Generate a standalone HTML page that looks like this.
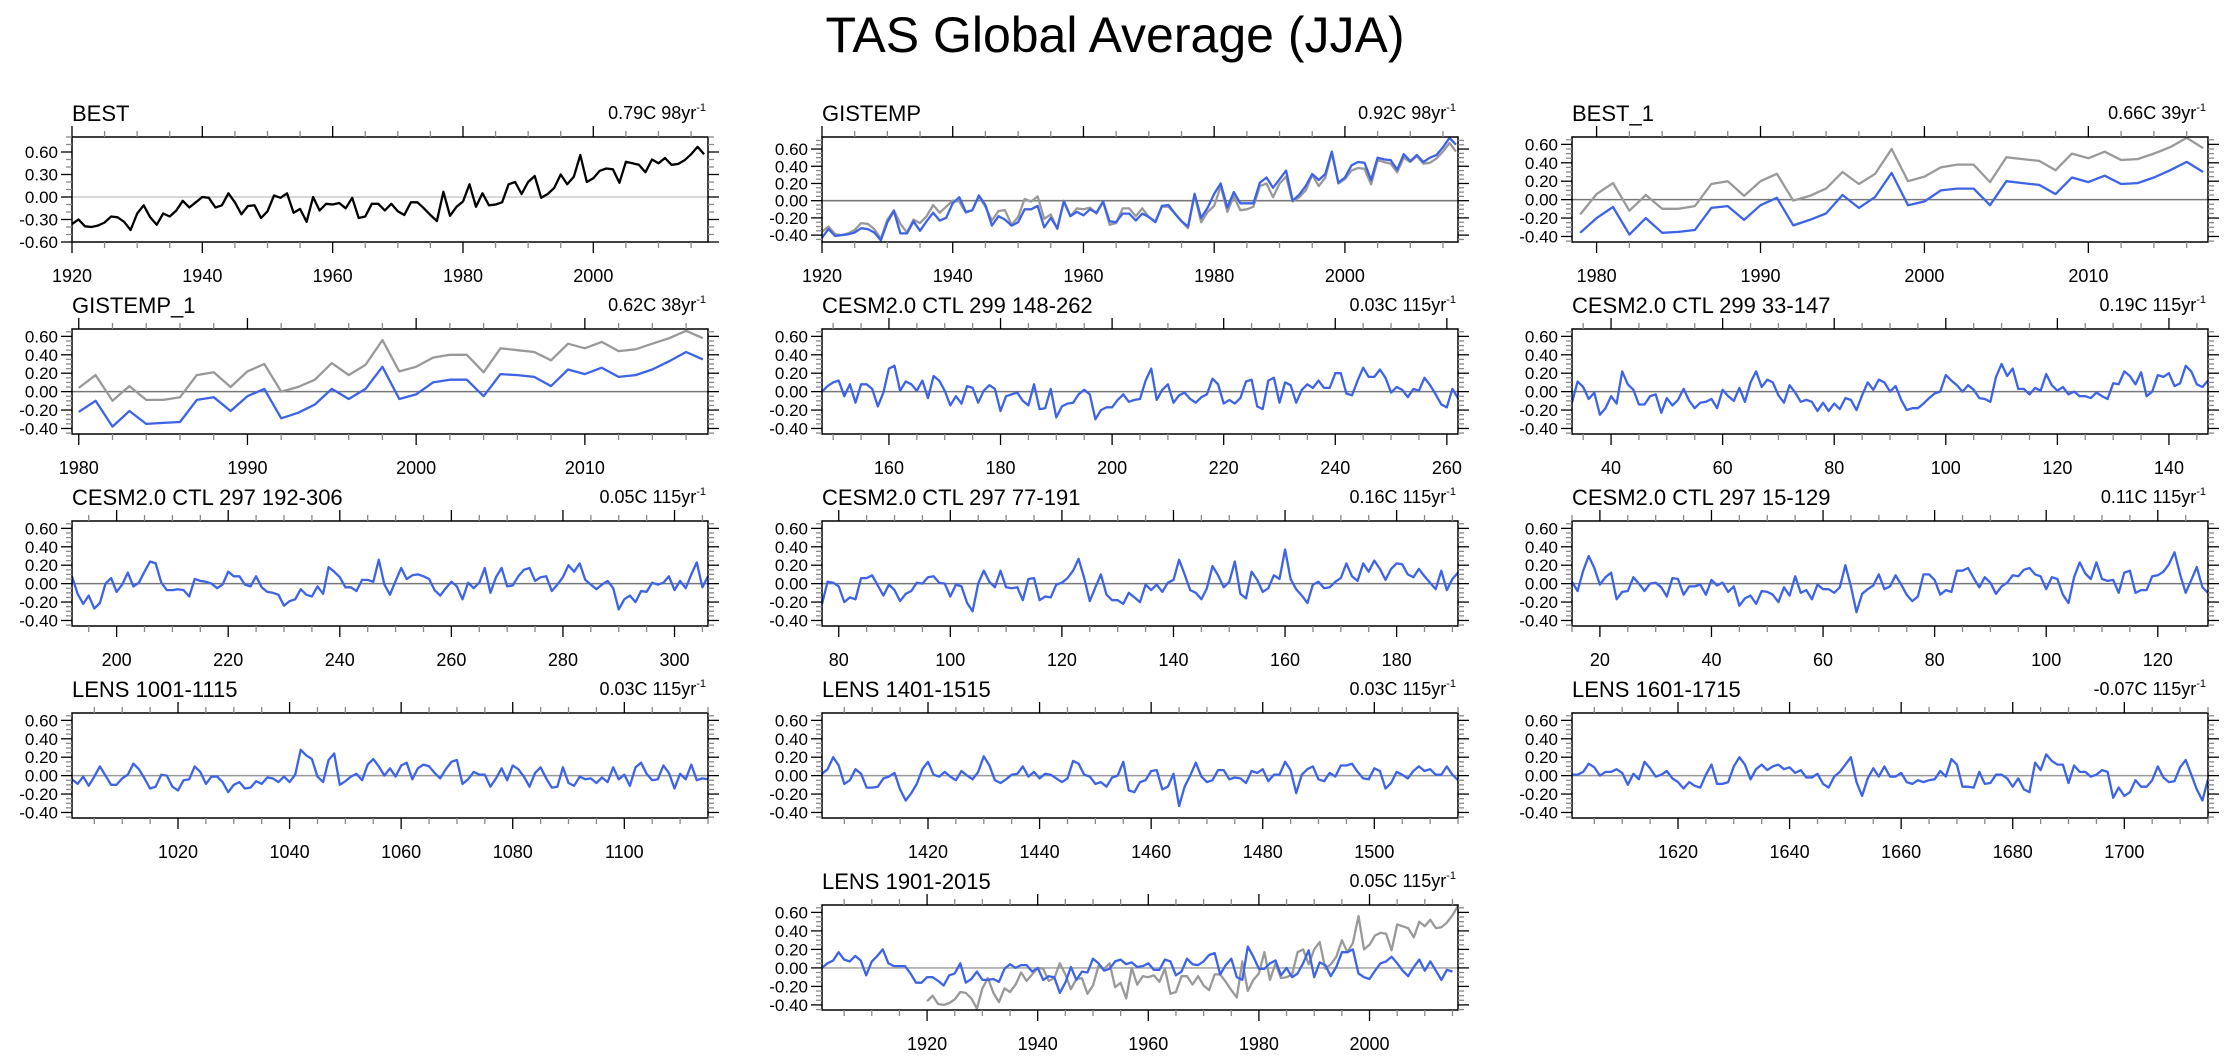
<!DOCTYPE html>
<html><head><meta charset="utf-8"><title>TAS Global Average (JJA)</title>
<style>html,body{margin:0;padding:0;background:#fff}svg{display:block;font-family:"Liberation Sans",Arial,sans-serif}</style>
</head><body>
<svg id="chart" width="2230" height="1057" viewBox="0 0 2230 1057" xmlns="http://www.w3.org/2000/svg">
<text x="1115" y="52" text-anchor="middle" font-size="50">TAS Global Average (JJA)</text>
</svg>
<script>
// ---- data ----
const best_start = 1920;
const best_vals = [-0.36,-0.30,-0.39,-0.40,-0.38,-0.34,-0.26,-0.27,-0.33,-0.44,-0.22,-0.11,-0.27,-0.37,-0.22,-0.26,-0.18,-0.05,-0.14,-0.07,0.00,-0.01,-0.14,-0.11,0.05,-0.07,-0.23,-0.12,-0.11,-0.28,-0.19,0.02,-0.01,0.05,-0.21,-0.16,-0.33,0.00,-0.18,-0.09,-0.10,-0.08,-0.15,-0.01,-0.28,-0.26,-0.09,-0.09,-0.18,-0.09,-0.19,-0.24,-0.07,-0.07,-0.15,-0.24,-0.32,0.07,-0.25,-0.13,-0.06,0.17,-0.13,0.05,-0.11,-0.10,-0.07,0.17,0.20,0.04,0.20,0.28,-0.01,0.04,0.12,0.30,0.17,0.27,0.56,0.20,0.25,0.35,0.38,0.37,0.19,0.47,0.45,0.43,0.33,0.50,0.45,0.52,0.43,0.44,0.49,0.57,0.67,0.57];
const gis_start = 1920;
const gis_vals = [-0.43,-0.33,-0.41,-0.40,-0.39,-0.37,-0.32,-0.33,-0.37,-0.46,-0.25,-0.12,-0.38,-0.38,-0.24,-0.35,-0.24,-0.14,-0.23,-0.20,-0.03,0.04,-0.13,-0.11,0.06,-0.05,-0.29,-0.18,-0.22,-0.29,-0.25,-0.10,-0.10,-0.06,-0.31,-0.20,-0.32,-0.01,-0.18,-0.13,-0.17,-0.10,-0.14,-0.01,-0.24,-0.25,-0.15,-0.15,-0.23,-0.15,-0.19,-0.25,-0.06,-0.05,-0.15,-0.24,-0.30,0.08,-0.20,-0.08,0.08,0.20,-0.08,0.10,-0.03,-0.03,-0.03,0.21,0.27,0.15,0.25,0.35,0.00,0.07,0.17,0.31,0.24,0.31,0.57,0.21,0.27,0.41,0.45,0.44,0.24,0.50,0.48,0.47,0.36,0.54,0.46,0.53,0.45,0.50,0.53,0.62,0.73,0.65];
const best1_start = 1979;
const best1_gray = [-0.16,0.06,0.18,-0.12,0.05,-0.10,-0.10,-0.07,0.17,0.20,0.04,0.20,0.28,-0.01,0.04,0.12,0.30,0.17,0.28,0.55,0.20,0.25,0.35,0.38,0.38,0.19,0.46,0.44,0.42,0.32,0.50,0.45,0.52,0.43,0.44,0.50,0.57,0.67,0.56];
const best1_blue = [-0.36,-0.20,-0.08,-0.38,-0.20,-0.36,-0.35,-0.33,-0.09,-0.07,-0.22,-0.06,0.02,-0.28,-0.22,-0.15,0.05,-0.09,0.03,0.29,-0.06,-0.02,0.10,0.12,0.12,-0.06,0.20,0.18,0.16,0.06,0.24,0.19,0.26,0.17,0.18,0.24,0.32,0.41,0.30];
const gis1_start = 1980;
const gis1_gray = [0.04,0.18,-0.10,0.06,-0.09,-0.09,-0.06,0.18,0.21,0.05,0.22,0.30,0.00,0.05,0.13,0.31,0.18,0.29,0.56,0.22,0.27,0.37,0.40,0.40,0.21,0.47,0.45,0.43,0.34,0.52,0.47,0.54,0.44,0.46,0.52,0.58,0.66,0.58];
const gis1_blue = [-0.22,-0.10,-0.38,-0.21,-0.35,-0.34,-0.33,-0.09,-0.06,-0.21,-0.05,0.03,-0.29,-0.23,-0.14,0.03,-0.08,0.03,0.27,-0.08,-0.03,0.10,0.13,0.13,-0.05,0.19,0.18,0.16,0.06,0.24,0.19,0.26,0.16,0.18,0.24,0.33,0.43,0.35];
const c299a_start = 148;
const c299a_vals = [0,0.06,0.10,0.12,-0.05,0.08,-0.12,0.08,0.08,0.03,-0.16,-0.01,0.25,0.28,0.01,0.11,0.08,0.01,0.12,-0.07,0.17,0.12,0.01,-0.15,-0.05,-0.13,0.06,0.04,-0.12,0.01,0.07,0.03,-0.21,-0.05,-0.03,-0.01,-0.10,-0.15,0.08,-0.19,-0.18,0.03,-0.28,-0.16,-0.13,-0.12,-0.03,0.02,-0.03,-0.30,-0.20,-0.17,-0.17,-0.09,-0.03,-0.11,-0.09,-0.08,0.12,0.25,-0.09,0.02,0.08,-0.12,-0.04,-0.01,-0.08,-0.12,-0.06,-0.03,0.14,0.08,-0.13,-0.09,-0.13,-0.07,0.11,0.13,-0.16,-0.19,0.12,0.15,-0.12,0.10,0.07,-0.12,0.02,0.08,0.04,0.12,0.04,0.04,0.20,0.20,-0.02,-0.04,0.12,0.26,0.16,0.16,0.24,0.15,-0.01,0.05,0.02,-0.06,0.03,0.01,0.15,0.07,-0.03,-0.14,-0.17,0.03,-0.07];
const c299b_start = 33;
const c299b_vals = [-0.12,0.11,0.05,-0.08,-0.01,-0.25,-0.18,-0.05,-0.13,0.22,0.08,0.02,-0.14,-0.14,-0.05,-0.03,-0.23,-0.07,-0.15,-0.09,0.03,-0.10,-0.18,-0.12,-0.11,-0.08,-0.18,0.02,-0.05,-0.10,0.04,-0.11,0.10,0.22,0.05,0.13,0.10,-0.04,-0.12,0.07,-0.01,-0.11,-0.09,-0.11,-0.21,-0.12,-0.21,-0.13,-0.19,-0.07,-0.09,-0.20,-0.04,0.10,0.02,0.13,0.10,0,0.06,-0.09,-0.20,-0.18,-0.18,-0.13,-0.07,-0.02,0,0.18,0.12,0.07,0,0.07,0.02,-0.07,-0.08,-0.11,0.16,0.30,0.17,0.25,0.03,0.03,-0.03,0.04,0.01,0.19,0.07,0.01,0.05,-0.03,0,-0.05,-0.05,-0.07,-0.01,-0.05,-0.08,0.09,0.08,0.22,0.17,0.08,0.21,-0.05,0,0.18,0.16,0.20,0.06,0.09,0.28,0.22,0.08,0.05,0.12];
const c297a_start = 192;
const c297a_vals = [0.08,-0.11,-0.22,-0.13,-0.27,-0.21,0,0.06,-0.09,-0.01,0.12,-0.03,0.01,0.13,0.24,0.22,0.01,-0.07,-0.07,-0.06,-0.07,-0.14,0.05,0.03,0.02,0,-0.05,-0.01,0.13,0.08,0.08,-0.01,-0.03,0.08,-0.04,-0.09,-0.10,-0.12,-0.24,-0.19,-0.17,-0.06,-0.12,-0.14,-0.03,-0.11,0.18,0.13,0.07,-0.04,-0.04,-0.08,0.04,0.04,0.02,0.26,-0.01,-0.12,0.03,0.17,0.05,0.09,0.10,0.08,0.05,-0.07,-0.13,-0.05,0.02,-0.03,-0.17,0.01,-0.05,0.01,0.17,-0.10,0.07,0.17,-0.03,-0.02,0.08,0.15,0.17,0.03,0.07,0.08,-0.08,-0.01,0.07,0.20,0.13,0.22,0.04,-0.01,-0.06,-0.01,0.03,-0.05,-0.28,-0.17,-0.13,-0.20,-0.08,-0.09,0.01,-0.01,0.01,0.08,-0.07,0.03,-0.05,0.10,0.23,-0.04,0.08];
const c297b_start = 77;
const c297b_vals = [-0.22,0.02,0.01,-0.03,-0.20,-0.15,-0.17,0.06,0.06,0.09,-0.02,-0.13,-0.01,-0.07,-0.19,-0.11,-0.08,0.01,0,0.07,0.08,0.01,0,-0.14,-0.01,-0.03,-0.21,-0.30,0,0.14,0.02,-0.04,0.14,-0.04,-0.05,-0.04,-0.18,0.05,0.06,-0.18,-0.14,-0.15,-0.01,0.01,0.06,0.14,0.27,0.06,-0.19,-0.04,0.10,-0.12,-0.18,-0.18,-0.22,-0.10,-0.15,-0.20,-0.01,-0.07,-0.01,-0.09,0.01,0.04,0.26,0.10,-0.07,-0.10,-0.17,-0.05,0.19,0.09,-0.04,0.02,0.24,-0.11,-0.16,0.13,0.04,-0.09,-0.05,0.09,0.05,0.37,0.05,-0.06,-0.13,-0.21,-0.01,0.02,-0.05,-0.04,0.02,0.06,0.22,0.08,0.03,0.22,0.13,0.25,0.16,0.04,0.16,0.22,0.21,0.10,0.07,0.16,0.08,0.01,-0.06,0.14,-0.07,0.05,0.12];
const c297c_start = 15;
const c297c_vals = [0.02,-0.08,0.14,0.30,0.17,-0.01,0.07,0.12,-0.17,-0.09,-0.08,0.07,0,-0.08,0,0.01,-0.04,-0.14,0.06,0.05,-0.12,-0.03,-0.03,-0.01,-0.12,0.04,-0.02,0.01,-0.09,-0.03,-0.24,-0.16,-0.13,-0.22,-0.08,-0.09,-0.12,-0.20,-0.04,-0.13,0.08,-0.10,-0.07,-0.17,-0.01,-0.06,-0.06,-0.10,-0.04,0.20,-0.03,-0.31,-0.11,-0.06,-0.02,0.10,-0.06,-0.03,0.09,-0.01,-0.12,-0.19,-0.14,0.10,0.10,0.04,-0.12,-0.07,-0.09,0.14,0.14,0.17,0.06,-0.04,0.07,0.01,-0.11,-0.03,0.01,0.09,0.08,0.15,0.17,0.10,0.08,-0.06,0.07,0.05,-0.12,-0.21,0.07,0.23,0.11,0.05,0.23,0.05,0.03,0.04,-0.10,0.12,0.14,-0.10,-0.07,-0.07,0.08,0.09,0.13,0.21,0.34,0.10,-0.10,0.04,0.18,-0.04,-0.10];
const l1001_start = 1001;
const l1001_vals = [-0.04,-0.09,-0.01,-0.11,-0.01,0.10,0,-0.10,-0.10,-0.03,0.01,0.13,0.07,-0.03,-0.14,-0.12,0.01,0,-0.12,-0.16,-0.05,-0.04,0.10,0.04,-0.09,-0.01,-0.01,-0.07,-0.18,-0.10,-0.07,-0.14,-0.13,-0.06,-0.09,-0.02,-0.03,-0.07,-0.01,-0.07,0.01,0.28,0.22,0.18,-0.01,-0.07,0.17,0.24,-0.10,-0.06,-0.01,0.02,-0.05,0.12,0.18,0.10,0,0.08,-0.01,0.11,0.14,-0.04,0.08,0.12,0.10,0.03,-0.03,0.07,0.15,0.17,-0.09,-0.04,0.04,0.01,0.01,-0.12,-0.03,0.08,-0.05,0.11,0.07,-0.01,-0.12,0.03,0.09,-0.03,-0.13,-0.12,0.09,-0.08,-0.11,-0.01,-0.04,-0.03,-0.08,-0.02,-0.07,0.09,-0.04,0.01,-0.11,0.09,0.14,0.02,-0.05,-0.04,0.11,0.03,-0.14,0.02,-0.04,0.12,-0.05,-0.03,-0.04];
const l1401_start = 1401;
const l1401_vals = [0.02,0.07,0.20,0.11,-0.09,-0.05,0.07,0.02,-0.13,-0.13,-0.12,-0.03,-0.01,0.03,-0.15,-0.27,-0.19,-0.09,0.07,0.15,0.01,-0.01,0.04,-0.01,-0.05,0.05,0,-0.04,0.04,0.21,0.11,-0.05,-0.08,-0.04,0.01,0.02,0.10,-0.01,0.04,-0.03,0.02,0.01,-0.03,-0.07,-0.03,0.16,0.13,0.01,-0.01,-0.09,-0.07,-0.12,-0.02,0,0.15,-0.16,-0.18,-0.07,-0.05,0.05,0.06,-0.15,-0.12,0.02,-0.33,-0.12,0,0.14,-0.01,-0.07,-0.05,0.06,0.06,-0.04,-0.02,-0.03,-0.08,0.05,0.03,0.07,-0.06,0.01,0.01,0.15,0.06,-0.19,0.01,0.07,0.10,-0.04,-0.06,0.03,-0.01,0.11,0.11,0.13,0.04,-0.03,-0.04,0.08,0.05,-0.14,-0.08,0.04,0.01,-0.03,0.05,0.10,0.05,0.07,0.01,0.01,0.10,0.01,-0.05];
const l1601_start = 1601;
const l1601_vals = [0.01,0.01,0.04,0.13,0.09,0,0.04,0.04,0.07,0.03,-0.10,0.02,-0.04,0.15,0.08,-0.01,0.01,0.05,-0.03,-0.07,-0.14,-0.07,-0.11,-0.13,0.01,0.12,-0.09,-0.09,-0.07,0.10,0.20,0.12,-0.04,0.07,0.12,0.06,0.10,0.12,0.07,0.09,0.03,0.06,-0.02,-0.02,0.02,-0.09,-0.13,-0.01,0.04,0.12,0.20,-0.07,-0.22,-0.03,0.08,-0.01,0.10,-0.01,-0.01,0.03,-0.07,-0.09,-0.05,-0.07,-0.05,-0.04,0.05,-0.01,0.18,0.12,-0.12,-0.12,-0.13,0.04,-0.09,-0.08,0.01,0.01,-0.03,-0.12,-0.03,-0.15,-0.18,0.14,0.06,0.23,0.16,0.12,0.12,-0.08,0.11,0.04,0.04,-0.01,0.01,0.06,0.04,-0.24,-0.13,-0.22,-0.18,-0.05,-0.12,-0.12,-0.05,0.10,-0.02,-0.07,-0.06,0.09,0.17,0.01,-0.15,-0.27,-0.04];
const l1901_start = 1901;
const l1901_vals = [0,0.05,0.08,0.17,0.09,0.07,0.13,0.08,-0.08,0.07,0.13,0.20,0.05,0.02,0.02,0.02,-0.06,-0.16,-0.16,-0.10,-0.10,-0.14,-0.19,-0.08,-0.06,0.05,-0.16,-0.12,-0.04,-0.13,-0.13,-0.12,-0.15,-0.01,0.04,0,0.03,0.03,-0.04,0,-0.13,-0.09,-0.10,-0.27,-0.16,0.01,-0.13,-0.04,-0.05,0.10,0.05,-0.03,-0.01,0.07,0.09,0.04,0.06,0.01,0.02,0.05,-0.02,-0.02,0.09,0.07,-0.08,-0.04,0.10,0.04,0.03,0.07,0.14,0.16,-0.07,0.03,0.10,-0.10,-0.13,0.23,0.12,-0.01,-0.01,0.05,0.08,-0.08,0,-0.10,-0.06,0.05,0.19,-0.10,0.06,0.03,-0.09,0.01,0.17,0.17,0.20,-0.06,-0.10,-0.12,-0.03,0.05,0.07,0.12,0.05,-0.03,-0.09,0.01,0.09,-0.03,0.07,-0.03,-0.13,-0.02,-0.04];

// tick label arrays
const yTicksA = ["-0.60","-0.30","0.00","0.30","0.60"];
const yTicksB = ["-0.40","-0.20","0.00","0.20","0.40","0.60"];
const xTicksBest = ["1920","1940","1960","1980","2000"];
const xTicksBest1 = ["1980","1990","2000","2010"];
const xTicks299a = ["160","180","200","220","240","260"];
const xTicks299b = ["40","60","80","100","120","140"];
const xTicks297a = ["200","220","240","260","280","300"];
const xTicks297b = ["80","100","120","140","160","180"];
const xTicks297c = ["20","40","60","80","100","120"];
const xTicksL1001 = ["1020","1040","1060","1080","1100"];
const xTicksL1401 = ["1420","1440","1460","1480","1500"];
const xTicksL1601 = ["1620","1640","1660","1680","1700"];
const xTicksL1901 = ["1920","1940","1960","1980","2000"];

const BLUE = "#3d63e6", GRAY = "#999999", BLACK = "#000000";
const colL = [72, 822, 1572], rowT = [137, 329, 521, 713, 905], PW = 636, PH = 105;

const panels = [
 {id:"best", title:"BEST", note:"0.79C 98yr", c:0, r:0, xmin:1920, xmax:2017.6, xt:xTicksBest, xminor:5, ymin:-0.6, ymax:0.8, yt:yTicksA, yminor:0.1, zc:"#cccccc",
  series:[{s:best_start, v:best_vals, col:BLACK}]},
 {id:"gistemp", title:"GISTEMP", note:"0.92C 98yr", c:1, r:0, xmin:1920, xmax:2017.3, xt:xTicksBest, xminor:5, ymin:-0.48, ymax:0.74, yt:yTicksB, yminor:0.05, zc:"#777777",
  series:[{s:best_start, v:best_vals, col:GRAY},{s:gis_start, v:gis_vals, col:BLUE}]},
 {id:"best-1", title:"BEST_1", note:"0.66C 39yr", c:2, r:0, xmin:1978.5, xmax:2017.3, xt:xTicksBest1, xminor:2, ymin:-0.46, ymax:0.68, yt:yTicksB, yminor:0.05, zc:"#777777",
  series:[{s:best1_start, v:best1_gray, col:GRAY},{s:best1_start, v:best1_blue, col:BLUE}]},
 {id:"gistemp-1", title:"GISTEMP_1", note:"0.62C 38yr", c:0, r:1, xmin:1979.6, xmax:2017.3, xt:xTicksBest1, xminor:2, ymin:-0.46, ymax:0.68, yt:yTicksB, yminor:0.05, zc:"#777777",
  series:[{s:gis1_start, v:gis1_gray, col:GRAY},{s:gis1_start, v:gis1_blue, col:BLUE}]},
 {id:"cesm-299-148", title:"CESM2.0 CTL 299 148-262", note:"0.03C 115yr", c:1, r:1, xmin:148, xmax:262, xt:xTicks299a, xminor:5, ymin:-0.46, ymax:0.68, yt:yTicksB, yminor:0.05, zc:"#777777",
  series:[{s:c299a_start, v:c299a_vals, col:BLUE}]},
 {id:"cesm-299-33", title:"CESM2.0 CTL 299 33-147", note:"0.19C 115yr", c:2, r:1, xmin:33, xmax:147, xt:xTicks299b, xminor:5, ymin:-0.46, ymax:0.68, yt:yTicksB, yminor:0.05, zc:"#777777",
  series:[{s:c299b_start, v:c299b_vals, col:BLUE}]},
 {id:"cesm-297-192", title:"CESM2.0 CTL 297 192-306", note:"0.05C 115yr", c:0, r:2, xmin:192, xmax:306, xt:xTicks297a, xminor:5, ymin:-0.46, ymax:0.68, yt:yTicksB, yminor:0.05, zc:"#777777",
  series:[{s:c297a_start, v:c297a_vals, col:BLUE}]},
 {id:"cesm-297-77", title:"CESM2.0 CTL 297 77-191", note:"0.16C 115yr", c:1, r:2, xmin:77, xmax:191, xt:xTicks297b, xminor:5, ymin:-0.46, ymax:0.68, yt:yTicksB, yminor:0.05, zc:"#777777",
  series:[{s:c297b_start, v:c297b_vals, col:BLUE}]},
 {id:"cesm-297-15", title:"CESM2.0 CTL 297 15-129", note:"0.11C 115yr", c:2, r:2, xmin:15, xmax:129, xt:xTicks297c, xminor:5, ymin:-0.46, ymax:0.68, yt:yTicksB, yminor:0.05, zc:"#777777",
  series:[{s:c297c_start, v:c297c_vals, col:BLUE}]},
 {id:"lens-1001", title:"LENS 1001-1115", note:"0.03C 115yr", c:0, r:3, xmin:1001, xmax:1115, xt:xTicksL1001, xminor:5, ymin:-0.46, ymax:0.68, yt:yTicksB, yminor:0.05, zc:"#999999",
  series:[{s:l1001_start, v:l1001_vals, col:BLUE}]},
 {id:"lens-1401", title:"LENS 1401-1515", note:"0.03C 115yr", c:1, r:3, xmin:1401, xmax:1515, xt:xTicksL1401, xminor:5, ymin:-0.46, ymax:0.68, yt:yTicksB, yminor:0.05, zc:"#999999",
  series:[{s:l1401_start, v:l1401_vals, col:BLUE}]},
 {id:"lens-1601", title:"LENS 1601-1715", note:"-0.07C 115yr", c:2, r:3, xmin:1601, xmax:1715, xt:xTicksL1601, xminor:5, ymin:-0.46, ymax:0.68, yt:yTicksB, yminor:0.05, zc:"#999999",
  series:[{s:l1601_start, v:l1601_vals, col:BLUE}]},
 {id:"lens-1901", title:"LENS 1901-2015", note:"0.05C 115yr", c:1, r:4, xmin:1901, xmax:2016, xt:xTicksL1901, xminor:5, ymin:-0.455, ymax:0.68, yt:yTicksB, yminor:0.05, zc:"#aaaaaa",
  series:[{s:best_start, v:best_vals, col:GRAY},{s:l1901_start, v:l1901_vals, col:BLUE}]}
];

const NS = "http://www.w3.org/2000/svg";
const svg = document.getElementById("chart");
function mk(tag, attrs, parent){
  const e = document.createElementNS(NS, tag);
  for (const k in attrs) e.setAttribute(k, attrs[k]);
  parent.appendChild(e);
  return e;
}

panels.forEach(p => {
  const L = colL[p.c], T = rowT[p.r], R = L + PW, B = T + PH;
  const xs = v => L + (v - p.xmin) / (p.xmax - p.xmin) * PW;
  const ys = v => T + (p.ymax - v) / (p.ymax - p.ymin) * PH;
  const g = mk("g", {}, svg);
  
  

  const cp = mk("clipPath", {id: "clip-" + p.id}, g);
  mk("rect", {x: L, y: T, width: PW, height: PH}, cp);

  const z = mk("line", {x1: L, x2: R, y1: ys(0), y2: ys(0), stroke: p.zc, "stroke-width": 1.6}, g);
  
  

  p.series.forEach((s, si) => {
    const pts = s.v.map((v, i) => xs(s.s + i).toFixed(1) + "," + ys(v).toFixed(1)).join(" ");
    const pl = mk("polyline", {points: pts, fill: "none", stroke: s.col, "stroke-width": 2.3, "stroke-linejoin": "round", "clip-path": "url(#clip-" + p.id + ")"}, g);
    
    
  });

  const fr = mk("rect", {x: L, y: T, width: PW, height: PH, fill: "none", stroke: "#000", "stroke-width": 1.5}, g);
  
  

  const tg = mk("g", {stroke: "#000", "stroke-width": 1.3}, g);
  
  
  const first = Math.ceil(p.xmin / p.xminor) * p.xminor;
  for (let v = first; v <= p.xmax + 1e-6; v += p.xminor) {
    const X = xs(v);
    const major = p.xt.indexOf(String(v)) >= 0;
    const len = major ? 11 : 6;
    mk("line", {x1: X, x2: X, y1: B, y2: B + len, stroke: major ? "#000" : "#888"}, tg);
    mk("line", {x1: X, x2: X, y1: T, y2: T - len, stroke: major ? "#000" : "#888"}, tg);
  }
  p.xt.forEach(lbl => {
    const t = mk("text", {x: xs(+lbl), y: B + 40, "text-anchor": "middle", "font-size": 18}, g);
    
    
    t.textContent = lbl;
  });

  const yfirst = Math.ceil(p.ymin / p.yminor - 1e-6);
  const ylast = Math.floor(p.ymax / p.yminor + 1e-6);
  for (let k = yfirst; k <= ylast; k++) {
    const v = k * p.yminor, Y = ys(v);
    const major = p.yt.some(l => Math.abs(+l - v) < 1e-6);
    const len = major ? 11 : 6;
    mk("line", {x1: L, x2: L - len, y1: Y, y2: Y, stroke: major ? "#000" : "#888"}, tg);
    mk("line", {x1: R, x2: R + len, y1: Y, y2: Y, stroke: major ? "#000" : "#888"}, tg);
  }
  p.yt.forEach(lbl => {
    const t = mk("text", {x: L - 14, y: ys(+lbl) + 6, "text-anchor": "end", "font-size": 17}, g);
    
    
    t.textContent = lbl;
  });

  const tt = mk("text", {x: L, y: T - 16, "font-size": 22}, g);
  
  
  tt.textContent = p.title;
  const nt = mk("text", {x: R - 2, y: T - 18, "text-anchor": "end", "font-size": 18}, g);
  
  
  nt.textContent = p.note;
  const sup = mk("tspan", {dy: -8, "font-size": 11}, nt);
  sup.textContent = "-1";
});
</script>
</body></html>
